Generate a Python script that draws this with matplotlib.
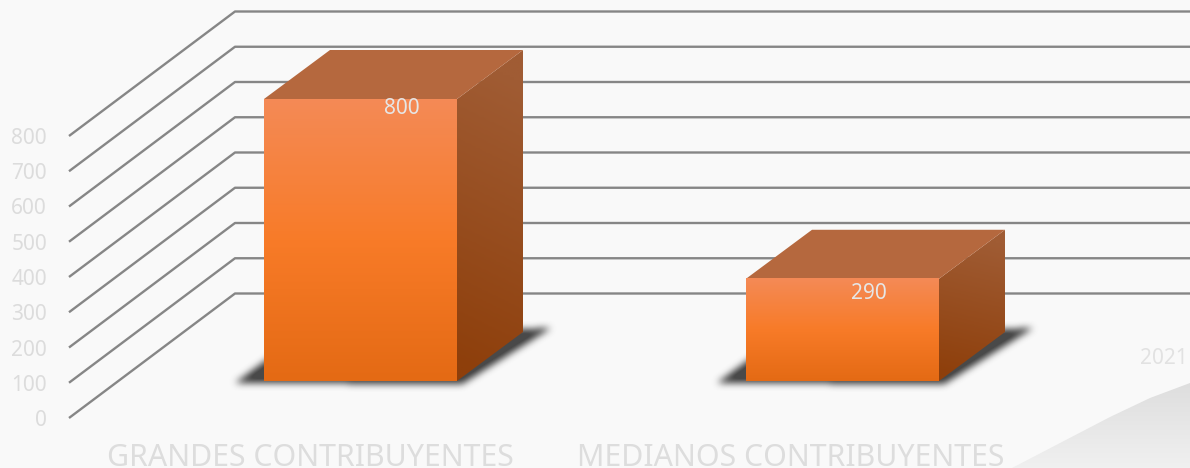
import numpy as np
import matplotlib
matplotlib.use('Agg')
import matplotlib.pyplot as plt
from matplotlib.colors import LinearSegmentedColormap, to_rgb
from matplotlib.patches import Polygon
from matplotlib.path import Path

categories = ['GRANDES CONTRIBUYENTES', 'MEDIANOS CONTRIBUYENTES']
values = [800, 290]
ticks = [0, 100, 200, 300, 400, 500, 600, 700, 800]
series_name = '2021'

plt.rcParams['font.family'] = ['Noto Sans', 'DejaVu Sans']

fig = plt.figure(figsize=(11.9, 4.68), dpi=100, facecolor='#f9f9f9')
ax = fig.add_axes([0, 0, 1, 1])
ax.set_facecolor('#f9f9f9')
ax.axis('off')

# x in categories, y in value units, both calibrated on the picture
px_x = 482.0            # pixels per category
px_y = 282.0 / 800      # pixels per value unit
xlim = (-360.5 / px_x, (1190 - 360.5) / px_x)
ylim = (-(468 - 418) / px_y, 418 / px_y)
ax.set_xlim(xlim)
ax.set_ylim(ylim)


def dx(p):
    return p / px_x


def dy(p):
    return p / px_y


floor_shift = dy(37)    # bar floor sits above the front axis end
bar_w = 193 / px_x
depth_x, depth_y = dx(66), dy(49)
wall_x, wall_y = dx(166), dy(124.5)
left = dx(69 - 360.5)

# swoosh in the lower right corner
sx = np.array([1012, 1060, 1110, 1150, 1190, 1190, 1012])
sy = np.array([468, 443, 417, 398, 383, 468, 468])
swoosh = Polygon(np.column_stack([dx(sx - 360.5), dy(418 - sy)]), closed=True, fc='none', ec='none')
ax.add_patch(swoosh)
grey = LinearSegmentedColormap.from_list('g', ['#dedede', '#f0f0f0'])
im = ax.imshow(np.linspace(0, 1, 64).reshape(-1, 1), cmap=grey, aspect='auto', zorder=1,
               extent=[dx(1012 - 360.5), dx(1190 - 360.5), dy(418 - 468), dy(418 - 383)])
im.set_clip_path(swoosh)

# gridlines: front stub, then back wall
for t in ticks:
    ax.plot([left, left + wall_x, xlim[1]], [t, t + wall_y, t + wall_y],
            color='#868686', lw=1.7, zorder=2, solid_capstyle='butt')
    ax.text(dx(47 - 360.5), t - dy(2.5), str(t), ha='right', va='center', color='#dcdcdc', fontsize=15, zorder=6)

front_cmap = LinearSegmentedColormap.from_list('f', [(0, '#f48a56'), (0.5, '#f87b28'), (1, '#e46a14')])
side_cmap = LinearSegmentedColormap.from_list('s', ['#a05c34', '#8e3f0b'])


def blurred_shadow(poly, passes=3, r=3):
    # mask on the pixel grid of the whole figure, box blurred a few times
    xx, yy = np.meshgrid(np.arange(1190) + 0.5, np.arange(468) + 0.5)
    mask = Path(poly).contains_points(np.column_stack([xx.ravel(), yy.ravel()])).reshape(468, 1190).astype(float)
    kernel = np.ones(2 * r + 1) / (2 * r + 1)
    for _ in range(passes):
        mask = np.apply_along_axis(np.convolve, 0, mask, kernel, mode='same')
        mask = np.apply_along_axis(np.convolve, 1, mask, kernel, mode='same')
    rgba = np.zeros((468, 1190, 4))
    rgba[..., :3] = to_rgb('#404040')
    rgba[..., 3] = np.clip(mask * 1.05, 0, 0.95)
    return rgba


for i, (name, v) in enumerate(zip(categories, values)):
    x0 = i - bar_w / 2
    x1 = i + bar_w / 2
    y0 = floor_shift
    y1 = floor_shift + v

    # soft shadow on the floor
    px0 = 360.5 + i * px_x - 96.5
    px1 = px0 + 193
    shadow = [(px0 - 29, 383), (px0 + 8, 356), (px1 + 66, 329), (px1 + 94, 328), (px1 + 5, 384)]
    ax.imshow(blurred_shadow(shadow), aspect='auto', zorder=3, extent=[xlim[0], xlim[1], ylim[0], ylim[1]])

    # front face
    ax.imshow(np.linspace(0, 1, 128).reshape(-1, 1), cmap=front_cmap, aspect='auto', zorder=5,
              extent=[x0, x1, y0, y1])

    # right side face, gradient runs down and a bit across
    side = Polygon([[x1, y0], [x1 + depth_x, y0 + depth_y], [x1 + depth_x, y1 + depth_y], [x1, y1]],
                   closed=True, fc='none', ec='none')
    ax.add_patch(side)
    gy, gx = np.mgrid[0:1:128j, 0:1:32j]
    im = ax.imshow(np.clip(gy * 1.05 - gx * 0.1, 0, 1), cmap=side_cmap, aspect='auto', zorder=4, vmin=0, vmax=1,
                   extent=[x1, x1 + depth_x, y0, y1 + depth_y])
    im.set_clip_path(side)

    # top face
    ax.add_patch(Polygon([[x0, y1], [x1, y1], [x1 + depth_x, y1 + depth_y], [x0 + depth_x, y1 + depth_y]],
                         closed=True, fc='#b5683e', ec='none', zorder=4))

    ax.text(i + dx(41 if i == 0 else 26), y1 - dy(9 if i == 0 else 15), str(v), ha='center', va='center',
            color='#e6e6e6', fontsize=15, zorder=6)
    ax.text(i + dx(-50.5 if i == 0 else -52), dy(418 - 465.5), name, ha='center', va='baseline',
            color='#dddddd', fontsize=21.8, zorder=6)

ax.text(dx(1188 - 360.5), dy(418 - 358.5), series_name, ha='right', va='center', color='#e2e2e2', fontsize=15, zorder=6)

# imshow resets limits
ax.set_xlim(xlim)
ax.set_ylim(ylim)

plt.savefig('out.png', dpi=100, facecolor=fig.get_facecolor())
